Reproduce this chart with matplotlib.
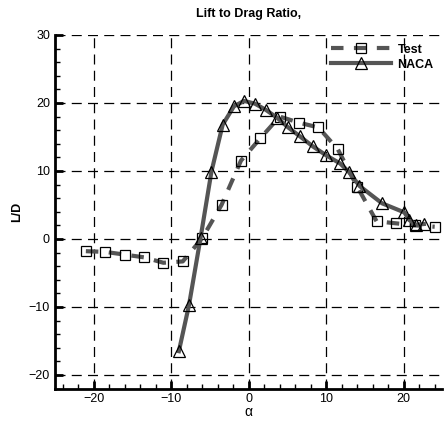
import matplotlib.pyplot as plt
from matplotlib.ticker import MultipleLocator

plt.rcParams['font.family'] = ['Liberation Sans', 'DejaVu Sans']

# wind tunnel test data
test_alpha = [-21, -18.5, -16, -13.5, -11, -8.5, -6, -3.5, -1, 1.5, 4, 6.5, 9, 11.5, 14, 16.5, 19, 21.5, 24]
test_ld = [-1.8, -1.9, -2.3, -2.7, -3.5, -3.3, 0.1, 5.0, 11.5, 14.8, 18.0, 17.1, 16.4, 13.2, 7.7, 2.6, 2.3, 2.0, 1.8]

# NACA reference data
naca_alpha = [-9.0, -7.7, -6.2, -4.8, -3.35, -1.9, -0.6, 0.8, 2.2, 3.7, 5.1, 6.6, 8.3, 10.0, 11.8, 12.9, 14.3, 17.2, 20.1, 20.7, 21.6, 22.6]
naca_ld = [-16.5, -9.75, 0.2, 9.9, 16.8, 19.5, 20.3, 19.9, 19.0, 17.8, 16.4, 15.1, 13.6, 12.3, 11.1, 9.9, 7.8, 5.25, 3.9, 2.8, 2.1, 2.2]

fig = plt.figure(figsize=(4.46, 4.21), dpi=100)
ax = fig.add_axes([0.123, 0.077, 0.869, 0.84])

ax.plot(test_alpha, test_ld, color='#555555', lw=3, ls=(0, (3, 2.5)),
        marker='s', ms=7, mfc='none', mec='black', mew=0.9, label='Test')
ax.plot(naca_alpha, naca_ld, color='#555555', lw=3, ls='-',
        marker='^', ms=9, mfc='none', mec='black', mew=0.9, label='NACA')

ax.set_xlim(-25, 25)
ax.set_ylim(-22, 30)
ax.xaxis.set_major_locator(MultipleLocator(10))
ax.xaxis.set_minor_locator(MultipleLocator(2))
ax.yaxis.set_major_locator(MultipleLocator(10))
ax.yaxis.set_minor_locator(MultipleLocator(2))
ax.tick_params(which='major', direction='in', length=6, width=2, labelsize=9)
ax.tick_params(which='minor', direction='in', length=3.5, width=1)
ax.grid(True, which='major', color='black', ls=(0, (8, 5)), lw=0.9)

for s in ['top', 'right']:
    ax.spines[s].set_visible(False)
for s in ['left', 'bottom']:
    ax.spines[s].set_linewidth(2)

ax.set_title('Lift to Drag Ratio,', fontsize=9, fontweight='bold', pad=13)
ax.set_xlabel('α', fontsize=10, labelpad=0)
ax.set_ylabel('L/D', fontsize=9, fontweight='bold', labelpad=4)

leg = ax.legend(loc='upper right', frameon=False, fontsize=9, handlelength=4.8,
                borderaxespad=0.3, labelspacing=0.25, handletextpad=0.5)
for t in leg.get_texts():
    t.set_fontweight('bold')

fig.savefig('out.png', dpi=100)
